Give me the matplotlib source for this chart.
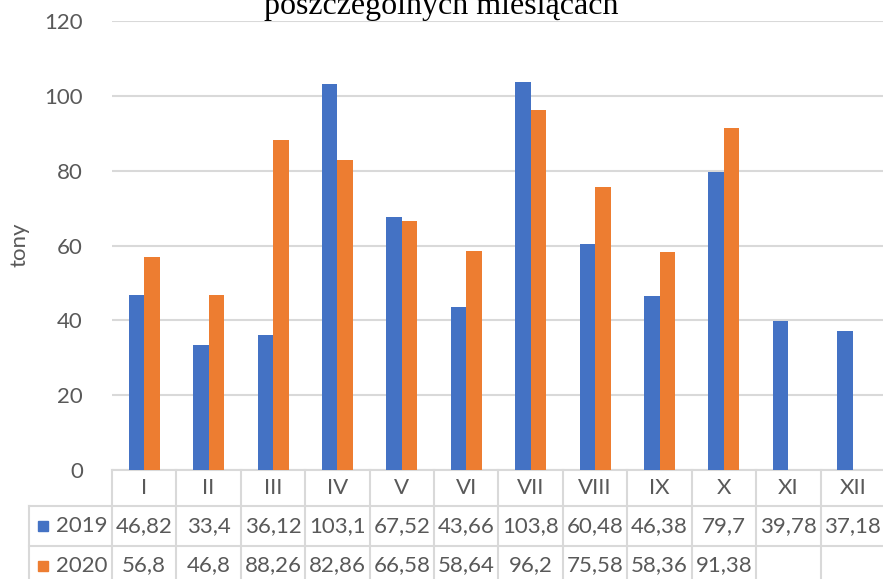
import numpy as np
import matplotlib
matplotlib.use("Agg")
import matplotlib.pyplot as plt
from matplotlib.patches import Rectangle

months = ["I", "II", "III", "IV", "V", "VI", "VII", "VIII", "IX", "X", "XI", "XII"]
series_names = ["2019", "2020"]
values_2019 = [46.82, 33.4, 36.12, 103.1, 67.52, 43.66, 103.8, 60.48, 46.38, 79.7, 39.78, 37.18]
values_2020 = [56.8, 46.8, 88.26, 82.86, 66.58, 58.64, 96.2, 75.58, 58.36, 91.38, None, None]
yticks = [0, 20, 40, 60, 80, 100, 120]

BLUE = "#4472C4"
ORANGE = "#ED7D31"
GRID = "#D9D9D9"
TEXT = "#595959"
FONT = ["Lato", "DejaVu Sans"]
FS = 16

plt.rcParams["font.family"] = FONT

fig = plt.figure(figsize=(8.83, 5.79), dpi=100)
W, H = 883, 579
ax = fig.add_axes([112 / W, (H - 470) / H, 773 / W, 449 / H])

x = np.arange(len(months))
bw = 0.24
for i, (v19, v20) in enumerate(zip(values_2019, values_2020)):
    if v19 is not None:
        ax.bar(x[i] - bw / 2, v19, width=bw, color=BLUE, zorder=3)
    if v20 is not None:
        ax.bar(x[i] + bw / 2, v20, width=bw, color=ORANGE, zorder=3)

ax.set_xlim(-0.5, len(months) - 0.5)
ax.set_ylim(0, 120)
ax.set_yticks(yticks)
ax.set_yticklabels([str(t) for t in yticks], fontsize=FS, color=TEXT)
ax.tick_params(axis="y", length=0, pad=21)
ax.set_xticks([])
for s in ax.spines.values():
    s.set_visible(False)
ax.grid(axis="y", color=GRID, linewidth=1.5, zorder=0)
fig.text(20 / W, (H - 245) / H, "tony", rotation=90, ha="center", va="center",
         fontsize=FS, color=TEXT)

# data table below the axis
tr = ax.get_xaxis_transform()
y_head = -36 / 449
y_r1 = -75.5 / 449
y_r2 = -120 / 449
x_left = -0.5 - 83 / 64.4
lkw = dict(color=GRID, linewidth=1.5, transform=tr, clip_on=False, zorder=2)

ax.plot([-0.5, len(months) - 0.5], [0, 0], **lkw)
ax.plot([x_left, len(months) - 0.5], [y_head, y_head], **lkw)
ax.plot([x_left, len(months) - 0.5], [y_r1, y_r1], **lkw)
ax.plot([x_left, x_left], [y_head, y_r2], **lkw)
for k in range(len(months) + 1):
    ax.plot([k - 0.5, k - 0.5], [0, y_r2], **lkw)

tkw = dict(transform=tr, ha="center", va="center", fontsize=FS, color=TEXT, clip_on=False)
for i, m in enumerate(months):
    ax.text(x[i], y_head / 2, m, **tkw)
    if values_2019[i] is not None:
        ax.text(x[i], (y_head + y_r1) / 2, f"{values_2019[i]:g}".replace(".", ","), **tkw)
    if values_2020[i] is not None:
        ax.text(x[i], (y_r1 + y_r2 + 0.01) / 2, f"{values_2020[i]:g}".replace(".", ","), **tkw)

for name, color, yc in [(series_names[0], BLUE, (y_head + y_r1) / 2),
                        (series_names[1], ORANGE, (y_r1 + y_r2 + 0.01) / 2)]:
    ax.add_patch(Rectangle((x_left + 9 / 64.4, yc - 5 / 449), 10 / 64.4, 10 / 449,
                           color=color, transform=tr, clip_on=False))
    ax.text(x_left + 27 / 64.4, yc, name, transform=tr, ha="left", va="center",
            fontsize=FS, color=TEXT, clip_on=False)

fig.text(0.5, (H - 14) / H, "poszczególnych miesiącach", ha="center", va="baseline",
         fontsize=23, family=["Liberation Serif", "DejaVu Serif"], color="black")

fig.savefig("out.png", dpi=100)
